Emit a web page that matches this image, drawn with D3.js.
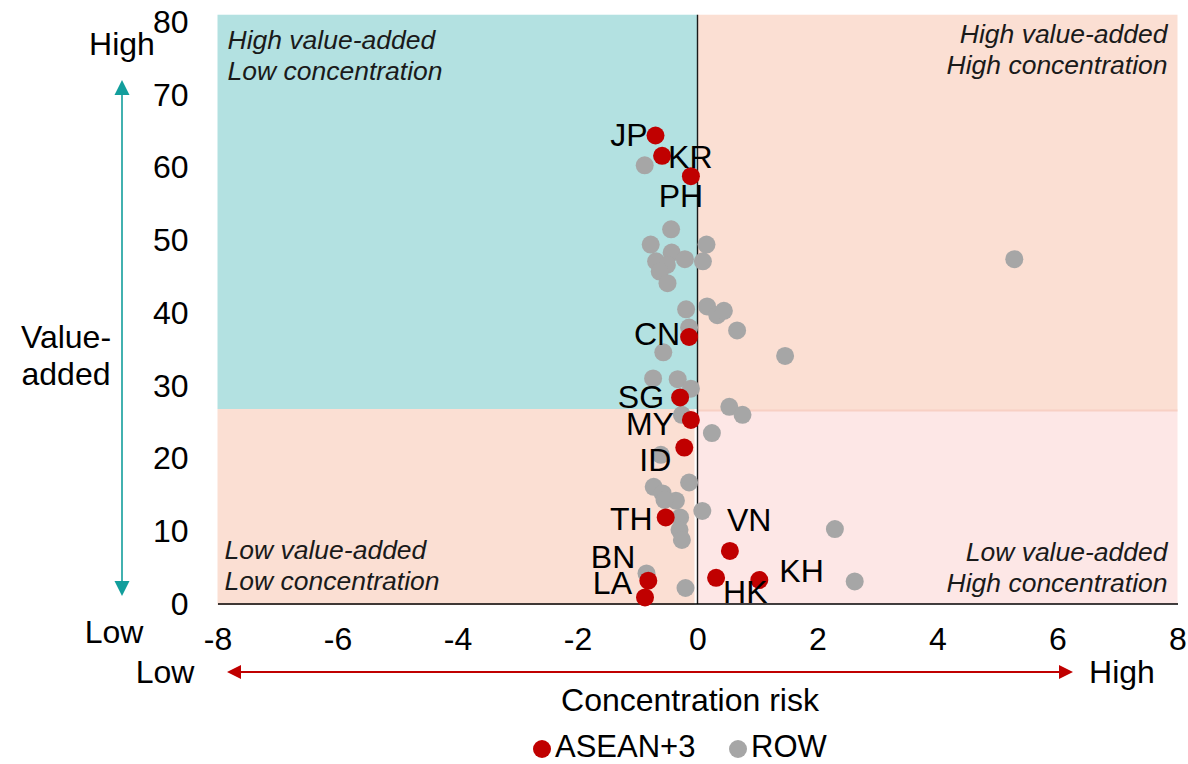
<!DOCTYPE html>
<html>
<head>
<meta charset="utf-8">
<script src="https://cdn.jsdelivr.net/npm/d3@7"></script>
<style>
  html, body { margin: 0; padding: 0; background: #fff; }
  svg { display: block; font-family: "Liberation Sans", Arial, sans-serif; }
</style>
</head>
<body>
<svg id="chart" width="1188" height="764"></svg>
<script>
// ASEAN+3 economies: concentration risk (x) vs value-added (y)
const aseanCodes = ["JP", "KR", "PH", "CN", "SG", "MY", "ID", "TH", "VN", "HK", "KH", "BN", "LA"];
const aseanRisk  = [-0.70, -0.59, -0.11, -0.14, -0.29, -0.11, -0.22, -0.53, 0.54, 0.31, 1.03, -0.82, -0.875];
const aseanValue = [64.4, 61.6, 58.8, 36.7, 28.4, 25.3, 21.5, 11.9, 7.3, 3.6, 3.3, 3.2, 0.9];

// Rest of the world
const rowRisk = [
  -0.88, -0.44, -0.78, 0.15, -0.43, -0.69, -0.21, 0.09, -0.51, -0.63, -0.50, 5.28,
  -0.19, 0.16, 0.33, 0.44, 0.66, -0.14, 1.46, -0.57, -0.74, -0.33, -0.11, -0.26,
  0.53, 0.75, 0.24, -0.61, -0.14, -0.73, -0.58, -0.36, -0.55, 0.08, -0.29, -0.30,
  -0.26, 2.29, -0.85, -0.20, 2.62
];
const rowValue = [
  60.3, 51.5, 49.4, 49.4, 48.3, 47.1, 47.4, 47.1, 46.6, 45.7, 44.1, 47.4,
  40.5, 40.9, 39.7, 40.3, 37.6, 38.0, 34.1, 34.6, 31.0, 30.9, 29.6, 26.0,
  27.1, 26.0, 23.5, 20.5, 16.7, 16.1, 15.2, 14.2, 14.3, 12.8, 11.9, 10.2,
  8.8, 10.3, 4.2, 2.2, 3.1
];

const xTicks = [-8, -6, -4, -2, 0, 2, 4, 6, 8];
const yTicks = [0, 10, 20, 30, 40, 50, 60, 70, 80];

const seriesNames = ["ASEAN+3", "ROW"];
const quadrantTexts = [
  ["High value-added", "Low concentration"],
  ["High value-added", "High concentration"],
  ["Low value-added", "Low concentration"],
  ["Low value-added", "High concentration"]
];

// value-added level that splits the upper and lower quadrants
const valueSplit = 26.8;
const valueTop = 81;

// label placement around each economy's marker (pixels)
const labelPlacement = {
  JP: { dx: -8, dy: 11, anchor: "end" },
  KR: { dx: 6, dy: 12, anchor: "start" },
  PH: { dx: -10, dy: 31, anchor: "middle" },
  CN: { dx: -9, dy: 8, anchor: "end" },
  SG: { dx: -16, dy: 11, anchor: "end" },
  MY: { dx: -17, dy: 15, anchor: "end" },
  ID: { dx: -13, dy: 23, anchor: "end" },
  TH: { dx: -13, dy: 13, anchor: "end" },
  VN: { dx: -3, dy: -20, anchor: "start" },
  HK: { dx: 7, dy: 25, anchor: "start" },
  KH: { dx: 20, dy: 2, anchor: "start" },
  BN: { dx: -13, dy: -13, anchor: "end" },
  LA: { dx: -13, dy: -3, anchor: "end" }
};

const RED = "#c00000";
const GREY = "#a6a6a6";
const TEAL = "#129e9c";

const svg = d3.select("#chart");

const x = d3.scaleLinear().domain([-8, 8]).range([217.5, 1177.5]);
const y = d3.scaleLinear().domain([0, 80]).range([604, 22]);

// quadrant backgrounds
const bg = svg.append("g");
bg.append("rect").attr("x", x(-8)).attr("y", y(valueTop))
  .attr("width", x(0) - x(-8)).attr("height", y(valueSplit) - y(valueTop))
  .attr("fill", "#b3e1e1");
bg.append("rect").attr("x", x(0)).attr("y", y(valueTop))
  .attr("width", x(8) - x(0)).attr("height", y(valueSplit) - y(valueTop) + 1)
  .attr("fill", "#fbdfd3");
bg.append("rect").attr("x", x(-8)).attr("y", y(valueSplit))
  .attr("width", x(0) - x(-8) - 3).attr("height", y(0) - y(valueSplit) + 1)
  .attr("fill", "#fbdfd3");
bg.append("rect").attr("x", x(0)).attr("y", y(valueSplit) + 1)
  .attr("width", x(8) - x(0)).attr("height", y(0) - y(valueSplit) - 1)
  .attr("fill", "#fde7e6");
bg.append("line").attr("x1", x(0)).attr("x2", x(8))
  .attr("y1", y(valueSplit) + 1.5).attr("y2", y(valueSplit) + 1.5)
  .attr("stroke", "#f8d0c4").attr("stroke-width", 2);

// quadrant captions
const qFont = 26.5;
const qg = svg.append("g").attr("font-size", qFont).attr("font-style", "italic").attr("fill", "#1a1a1a");
const qPos = [
  { x: x(-8) + 10, y: 49, anchor: "start" },
  { x: x(8) - 10, y: 43, anchor: "end" },
  { x: x(-8) + 7, y: 559, anchor: "start" },
  { x: x(8) - 10, y: 561, anchor: "end" }
];
quadrantTexts.forEach((lines, i) => {
  lines.forEach((t, j) => {
    qg.append("text").attr("x", qPos[i].x).attr("y", qPos[i].y + j * 31)
      .attr("text-anchor", qPos[i].anchor).text(t);
  });
});

// zero line
svg.append("line").attr("x1", x(0)).attr("x2", x(0))
  .attr("y1", y(valueTop)).attr("y2", y(0))
  .attr("stroke", "#1a1a1a").attr("stroke-width", 1.4);

// axes
const fontSize = 32;
const xAxis = svg.append("g").attr("transform", `translate(0,${y(0) - 0.5})`)
  .call(d3.axisBottom(x).tickValues(xTicks).tickFormat(d => String(d))
    .tickSize(0).tickSizeOuter(0).tickPadding(24));
xAxis.select(".domain").attr("stroke", "#000").attr("stroke-width", 1.5);
xAxis.selectAll("text").attr("font-size", fontSize).attr("fill", "#000")
  .attr("font-family", "Liberation Sans, Arial, sans-serif");

const yAxis = svg.append("g").attr("transform", `translate(${x(-8)},0)`)
  .call(d3.axisLeft(y).tickValues(yTicks).tickFormat(d => String(d))
    .tickSize(0).tickPadding(29));
yAxis.select(".domain").remove();
yAxis.selectAll("text").attr("font-size", fontSize).attr("fill", "#000")
  .attr("font-family", "Liberation Sans, Arial, sans-serif");

// points
const rowData = rowRisk.map((r, i) => ({ r, v: rowValue[i] }));
const aseanData = aseanCodes.map((c, i) => ({ code: c, r: aseanRisk[i], v: aseanValue[i] }));

svg.append("g").selectAll("circle").data(rowData).join("circle")
  .attr("cx", d => x(d.r)).attr("cy", d => y(d.v)).attr("r", 9).attr("fill", GREY);

svg.append("g").selectAll("circle").data(aseanData).join("circle")
  .attr("cx", d => x(d.r)).attr("cy", d => y(d.v)).attr("r", 9).attr("fill", RED);

svg.append("g").attr("font-size", fontSize).attr("fill", "#000")
  .selectAll("text").data(aseanData).join("text")
  .attr("x", d => x(d.r) + labelPlacement[d.code].dx)
  .attr("y", d => y(d.v) + labelPlacement[d.code].dy)
  .attr("text-anchor", d => labelPlacement[d.code].anchor)
  .text(d => d.code);

// value-added arrow (vertical, double headed)
const va = svg.append("g");
va.append("line").attr("x1", 122).attr("x2", 122).attr("y1", 92).attr("y2", 584)
  .attr("stroke", TEAL).attr("stroke-width", 1.6);
va.append("path").attr("d", "M122,80 L114.5,95 L129.5,95 Z").attr("fill", TEAL);
va.append("path").attr("d", "M122,596 L114.5,581 L129.5,581 Z").attr("fill", TEAL);

// concentration arrow (horizontal, double headed)
const ca = svg.append("g");
ca.append("line").attr("x1", 238).attr("x2", 1062).attr("y1", 672).attr("y2", 672)
  .attr("stroke", RED).attr("stroke-width", 2);
ca.append("path").attr("d", "M227,672 L241,665 L241,679 Z").attr("fill", RED);
ca.append("path").attr("d", "M1073,672 L1059,665 L1059,679 Z").attr("fill", RED);

// axis titles
const tg = svg.append("g").attr("font-size", fontSize).attr("fill", "#000");
tg.append("text").attr("x", 122).attr("y", 55).attr("text-anchor", "middle").text("High");
tg.append("text").attr("x", 114).attr("y", 643).attr("text-anchor", "middle").text("Low");
tg.append("text").attr("x", 66).attr("y", 348).attr("text-anchor", "middle").text("Value-");
tg.append("text").attr("x", 66).attr("y", 385).attr("text-anchor", "middle").text("added");
tg.append("text").attr("x", 165).attr("y", 683).attr("text-anchor", "middle").text("Low");
tg.append("text").attr("x", 1122).attr("y", 683).attr("text-anchor", "middle").text("High");
tg.append("text").attr("x", 690).attr("y", 711).attr("text-anchor", "middle").text("Concentration risk");

// legend
const legend = svg.append("g").attr("font-size", 31).attr("fill", "#000");
const legendColors = [RED, GREY];
const legendX = [542, 738];
seriesNames.forEach((name, i) => {
  legend.append("circle").attr("cx", legendX[i]).attr("cy", 749).attr("r", 9).attr("fill", legendColors[i]);
  legend.append("text").attr("x", legendX[i] + 13).attr("y", 757).text(name);
});
</script>
</body>
</html>
